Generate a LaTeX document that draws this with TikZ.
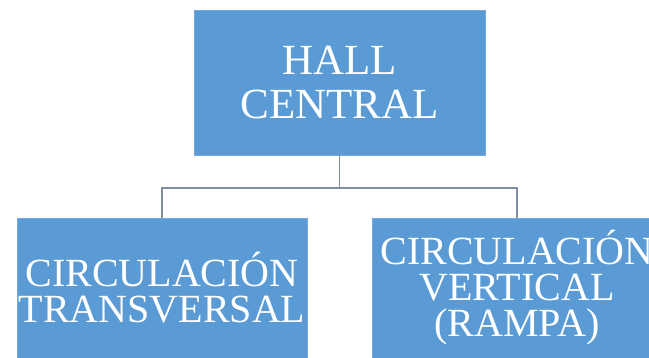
\documentclass[tikz,border=0pt]{standalone}
\usepackage{fontspec}
\setmainfont{Liberation Serif}
\definecolor{boxblue}{HTML}{5B9BD5}
\definecolor{linkcol}{HTML}{7E8FA3}
\begin{document}
\begin{tikzpicture}[x=1pt,y=-1pt,
  box/.style={rectangle,fill=boxblue,draw=boxblue!85!white,line width=0.6pt,text=white,align=center,inner sep=0pt},
  topbox/.style={box,minimum width=291pt,minimum height=145pt,font=\fontsize{43}{44}\selectfont},
  subbox/.style={box,minimum width=290pt,minimum height=140pt,font=\fontsize{40}{36}\selectfont},
  link/.style={draw=linkcol,line width=1.5pt}]
\useasboundingbox (0,0) rectangle (649,358);
\clip (0,0) rectangle (649,358);
\fill[white] (0,0) rectangle (649,358);
\node[topbox] (hall) at (339.5,82.5) {HALL\\CENTRAL};
\node[subbox] (trans) at (162,288) {CIRCULACIÓN\\TRANSVERSAL};
\node[subbox] (vert) at (517,288) {CIRCULACIÓN\\VERTICAL\\(RAMPA)};
\coordinate (mid) at (339.5,188);
\draw[link] (hall.south) -- (mid);
\draw[link] (mid) -| (trans.north);
\draw[link] (mid) -| (vert.north);
\end{tikzpicture}
\end{document}
